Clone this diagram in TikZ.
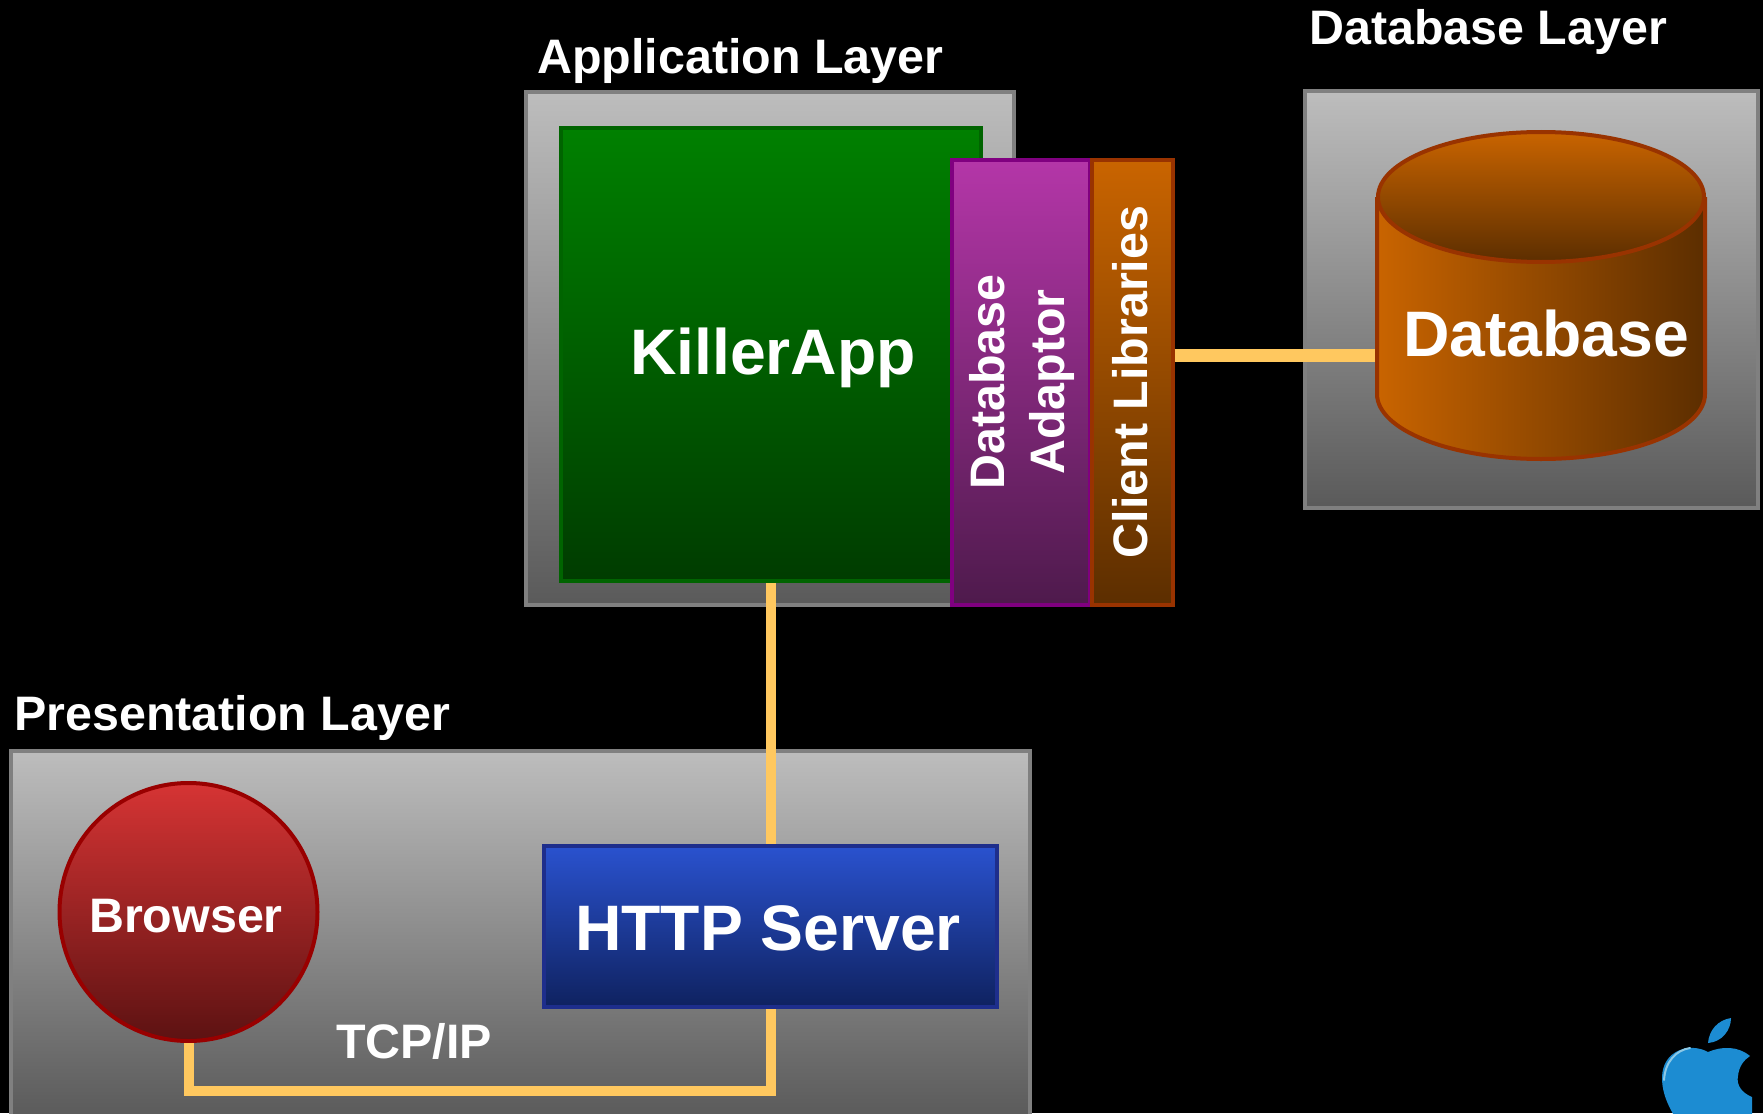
\documentclass[tikz,border=0pt]{standalone}
\usepackage{fontspec}
\usetikzlibrary{shapes.geometric}
\setmainfont[Kerning=Off]{Liberation Sans}
\tikzset{
  lbl/.style={text=white,font=\bfseries\fontsize{48.4}{60}\selectfont,inner sep=0pt,align=center},
  biglbl/.style={text=white,font=\bfseries\fontsize{64.3}{72}\selectfont,inner sep=0pt},
  box/.style={rectangle,anchor=north west,inner sep=0pt,line width=4pt},
  layer/.style={box,draw=laygrey,top color=laytop,bottom color=laybot},
  conn/.style={draw=wire,line width=10pt,line cap=butt,line join=miter},
}
\definecolor{laygrey}{HTML}{808080}
\definecolor{laytop}{HTML}{BDBDBD}
\definecolor{laybot}{HTML}{5A5A5A}
\definecolor{wire}{HTML}{FFC85F}
\definecolor{orangetop}{HTML}{C96400}
\definecolor{orangebot}{HTML}{5C2E00}
\definecolor{orangeedge}{HTML}{993300}
\definecolor{greentop}{HTML}{008000}
\definecolor{greenbot}{HTML}{003C00}
\definecolor{greenedge}{HTML}{006400}
\definecolor{purptop}{HTML}{B436A8}
\definecolor{purpbot}{HTML}{4E1A4C}
\definecolor{purpedge}{HTML}{800080}
\definecolor{bluetop}{HTML}{2A52CF}
\definecolor{bluebot}{HTML}{0F2260}
\definecolor{blueedge}{HTML}{1E2E8C}
\definecolor{redtop}{HTML}{D63434}
\definecolor{redbot}{HTML}{5C1212}
\definecolor{rededge}{HTML}{990000}
\definecolor{applefill}{HTML}{1C8CD2}
\definecolor{applerim}{HTML}{8CC8E6}
\begin{document}
\begin{tikzpicture}[x=1pt,y=-1pt]
\useasboundingbox (0,0) rectangle (1763,1113);
\clip (0,0) rectangle (1763,1113);
\fill[black] (0,0) rectangle (1763,1113);

% layers
\node[layer,minimum width=488pt,minimum height=513pt] (applayer) at (523.5,90) {};
\node[layer,minimum width=453pt,minimum height=417pt] (dblayer) at (1303,89) {};
\node[layer,minimum width=1019pt,minimum height=368pt] (preslayer) at (8.5,749) {};

% layer titles
\node[lbl,anchor=base west] (apptitle) at (537,74) {Application Layer};
\node[lbl,anchor=base west] (dbtitle) at (1309,45) {Database Layer};
\node[lbl,anchor=base west] (prestitle) at (14,730) {Presentation Layer};

% application
\node[box,draw=greenedge,top color=greentop,bottom color=greenbot,minimum width=420pt,minimum height=453pt] (killer) at (558.5,126) {};
\node[biglbl,anchor=base] (killertext) at (773,374) {KillerApp};
\node[box,draw=purpedge,top color=purptop,bottom color=purpbot,minimum width=138pt,minimum height=445pt] (adaptor) at (950,158) {};
\node[box,draw=orangeedge,top color=orangetop,bottom color=orangebot,minimum width=81pt,minimum height=445pt] (client) at (1089.5,158) {};
\node[lbl,rotate=90] (adaptortext) at (1022,382) {Database\\Adaptor};
\node[lbl,rotate=90] (clienttext) at (1130,382) {Client Libraries};

% database
\coordinate (dbport) at (1375,355);
\path[left color=orangetop,right color=orangebot] (1377,197) -- (1377,394) arc[start angle=180,end angle=0,x radius=164,y radius=65] -- (1705,197) -- cycle;
\draw[orangeedge,line width=4pt] (1377,197) -- (1377,394) arc[start angle=180,end angle=0,x radius=164,y radius=65] -- (1705,197);
\node[ellipse,draw=orangeedge,line width=4pt,top color=orangetop,bottom color=orangebot,minimum width=326pt,minimum height=130pt,inner sep=0pt] (dbtop) at (1541,197) {};
\node[biglbl,anchor=base] (dbtext) at (1546,356) {Database};

% presentation
\node[circle,draw=rededge,line width=4pt,top color=redtop,bottom color=redbot,minimum size=258pt,inner sep=0pt] (browser) at (188.5,912) {};
\node[lbl,anchor=base] (browsertext) at (186,932) {Browser};
\coordinate (httpn) at (killer.south |- 0,846);
\coordinate (https) at (killer.south |- 0,1006);
\draw[conn] (killer.south) -- (httpn);
\draw[conn,line width=13pt] (client.east |- dbport) -- (dbport);
\draw[conn] (browser.south) -- ++(0,48) -| (https);
\node[box,draw=blueedge,top color=bluetop,bottom color=bluebot,minimum width=453pt,minimum height=161pt] (http) at (541.5,843.5) {};
\node[biglbl,anchor=base] (httptext) at (768,950) {HTTP Server};
\node[lbl,anchor=base] (tcp) at (414,1058) {TCP/IP};

% apple logo
\fill[applefill] (1708,1043) .. controls (1709,1030) and (1718,1020) .. (1731,1018) .. controls (1731,1030) and (1722,1042) .. (1708,1043) -- cycle;
\fill[applefill] (1708,1052) .. controls (1690,1042) and (1662,1050) .. (1662,1078) .. controls (1662,1095) and (1670,1110) .. (1680,1125) -- (1752,1125) -- (1752,1097) .. controls (1742,1093) and (1736,1085) .. (1738,1076) .. controls (1739,1066) and (1744,1060) .. (1750,1056) .. controls (1738,1046) and (1722,1046) .. (1708,1052) -- cycle;
\draw[applerim,line width=2pt,line cap=round] (1664,1080) .. controls (1665,1062) and (1676,1050) .. (1690,1048);
\end{tikzpicture}
\end{document}
